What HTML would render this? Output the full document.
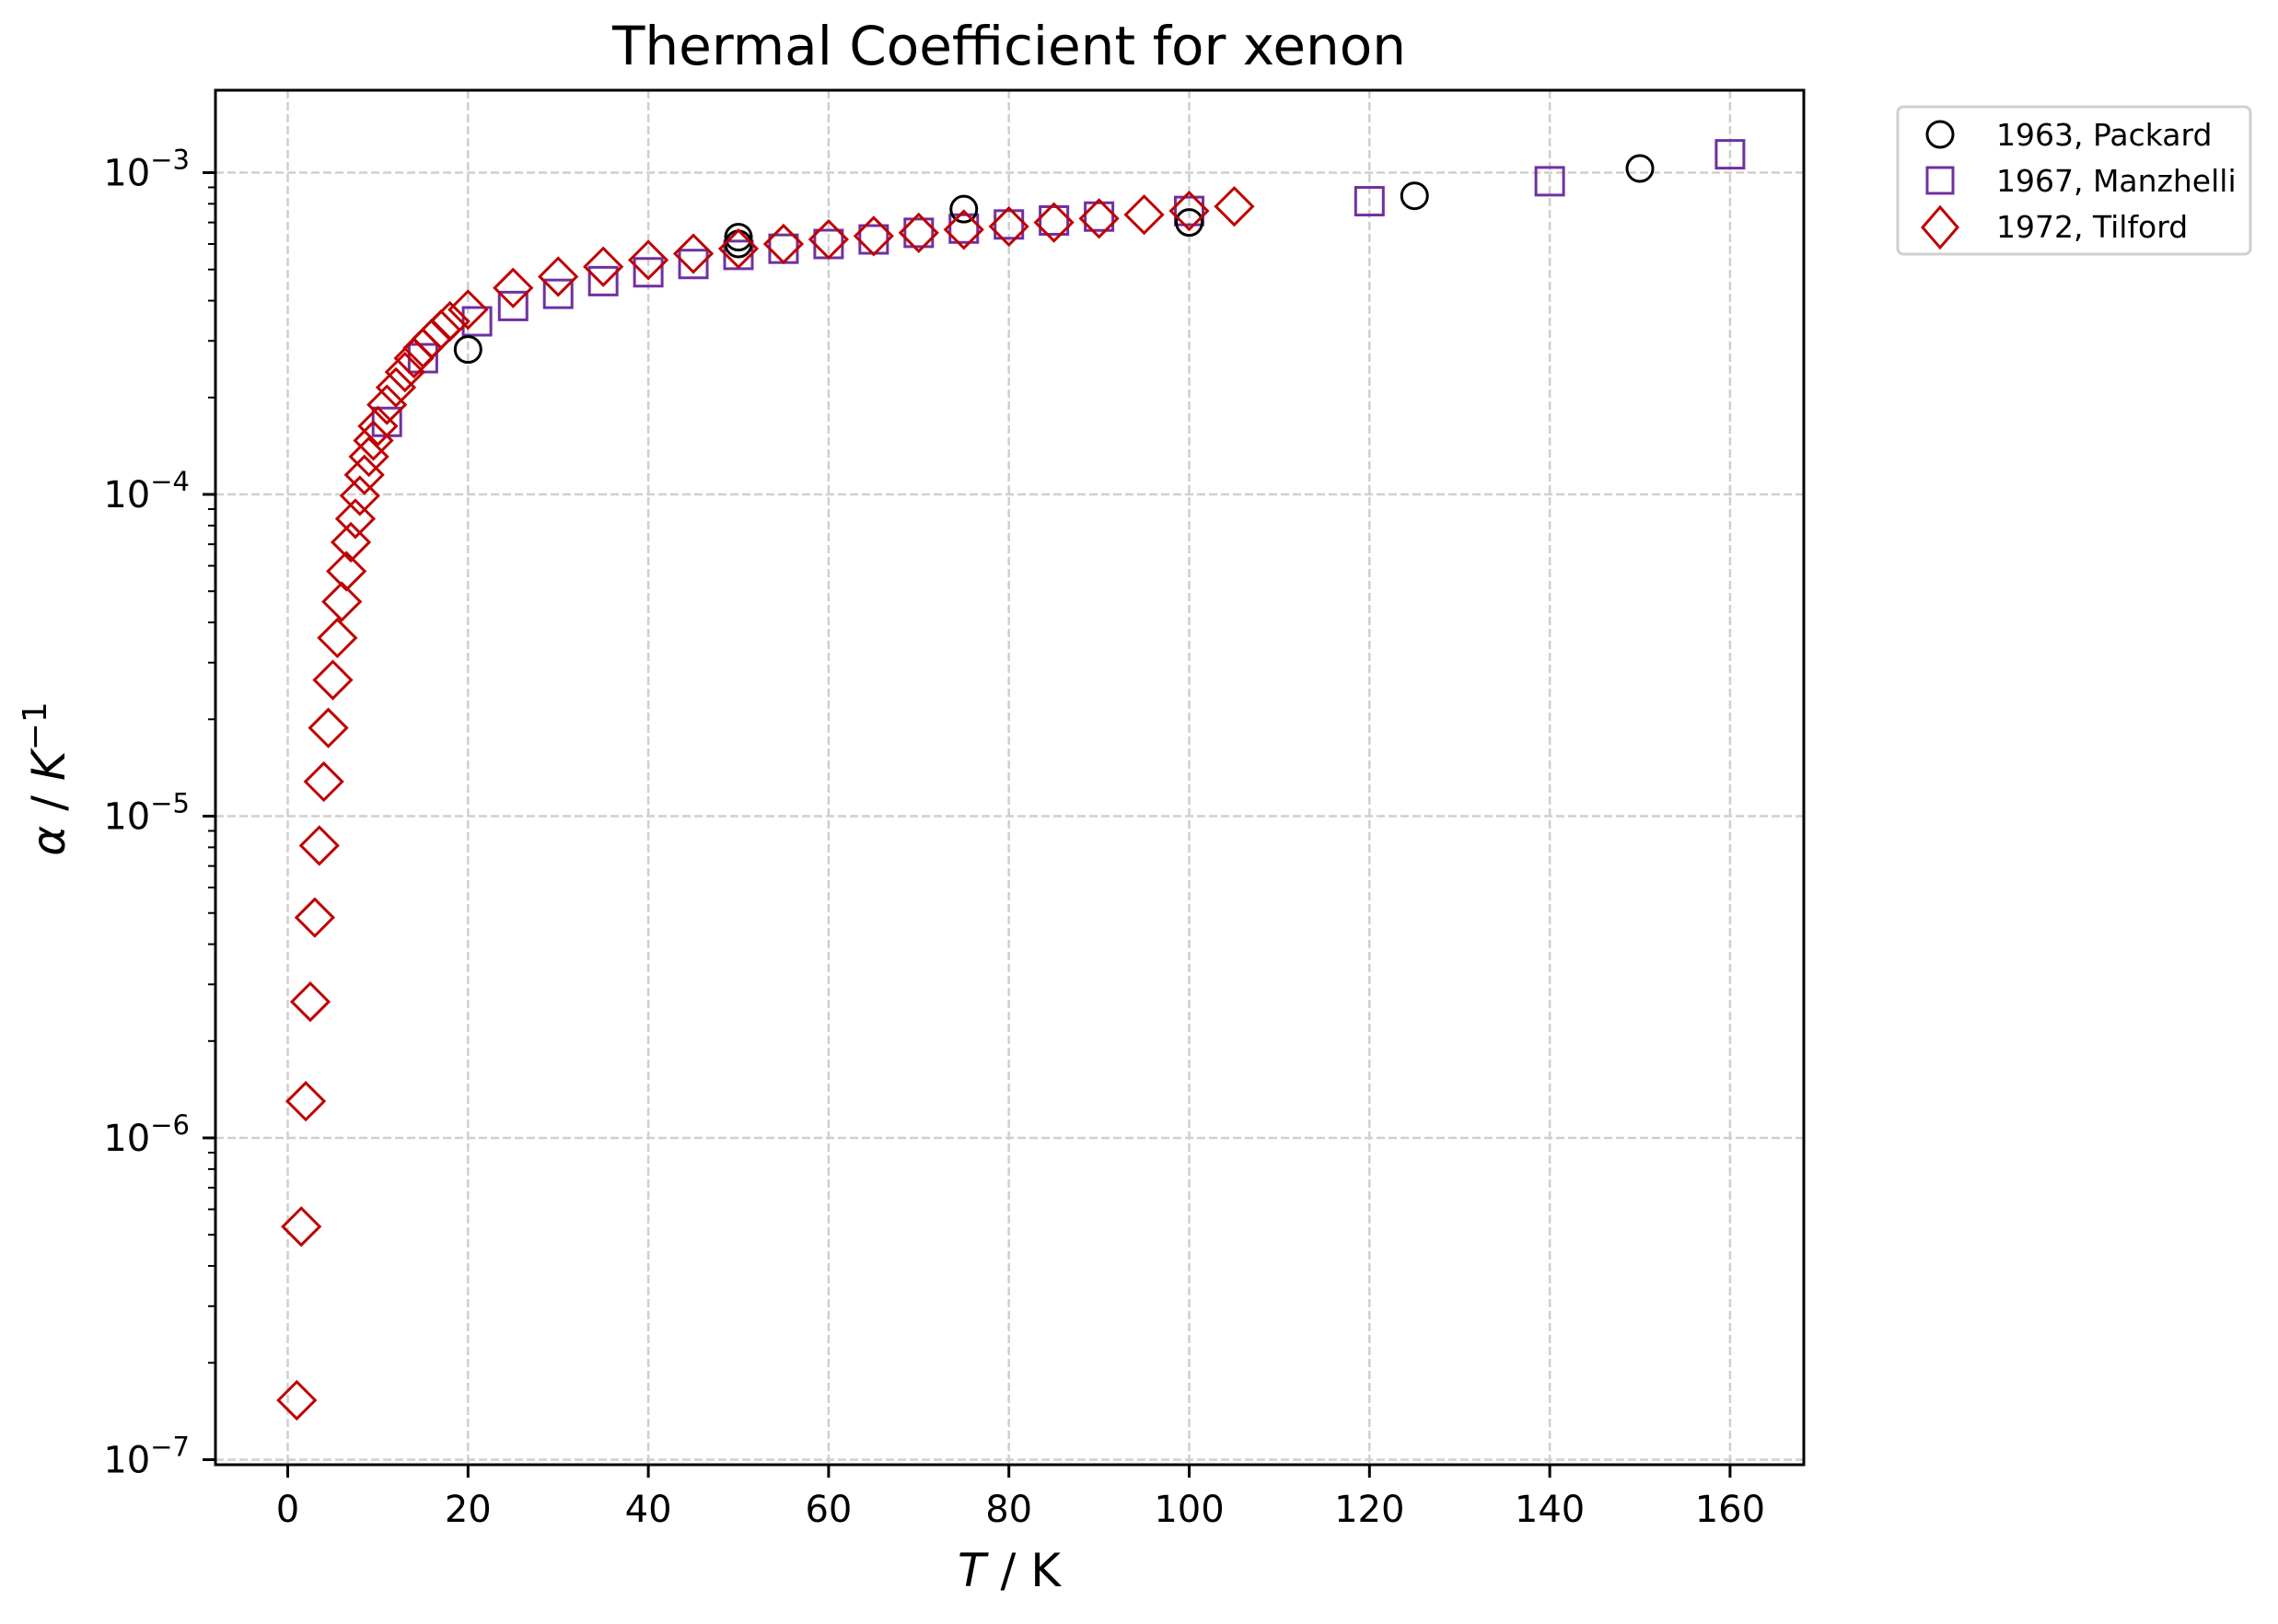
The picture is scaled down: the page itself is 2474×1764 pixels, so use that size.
<!DOCTYPE html>
<html><head><meta charset="utf-8"><style>
html,body{margin:0;padding:0;background:#fff}
svg{display:block;font-family:"DejaVu Sans","Liberation Sans",sans-serif}
</style></head><body>
<svg id="chart" width="2474" height="1764" viewBox="0 0 2474 1764" xmlns="http://www.w3.org/2000/svg">
<rect width="2474" height="1764" fill="#fff"/>
<text x="1096" y="70" font-size="58" text-anchor="middle">Thermal Coefficient for xenon</text>
<g id="grid"></g>
<g id="marks"></g>
<g id="axes"></g>
<text x="1096" y="1723" font-size="50" text-anchor="middle"><tspan font-style="italic">T</tspan> / K</text>
<text transform="translate(70,846) rotate(-90)" font-size="50" text-anchor="middle"><tspan font-style="italic">α</tspan> / <tspan font-style="italic">K</tspan><tspan dy="-20" font-size="36">−1</tspan></text>
<g>
<rect x="2061" y="116" width="383" height="160" rx="6" fill="#fff" stroke="#d0d0d0" stroke-width="3"/>
<g><circle cx="2107" cy="146" r="14" fill="none" stroke="#000" stroke-width="3"/><text x="2168" y="158" font-size="33">1963, Packard</text></g>
<g><rect x="2093" y="182" width="28" height="28" fill="none" stroke="#7030a0" stroke-width="3"/><text x="2168" y="208" font-size="33">1967, Manzhelli</text></g>
<g><path d="M2107 225 L2126 247 L2107 269 L2088 247 Z" fill="none" stroke="#c00000" stroke-width="3"/><text x="2168" y="258" font-size="33">1972, Tilford</text></g>
</g>
</svg>
<script>
const packardT=[20,50,50,75,100,125,150];
const packardA=[2.82e-4,6.3e-4,6.0e-4,7.7e-4,7.0e-4,8.47e-4,1.03e-3];
const manzT=[11,15,21,25,30,35,40,45,50,55,60,65,70,75,80,85,90,100,120,140,160];
const manzA=[1.68e-4,2.65e-4,3.45e-4,3.85e-4,4.2e-4,4.6e-4,4.9e-4,5.2e-4,5.55e-4,5.8e-4,6.0e-4,6.2e-4,6.5e-4,6.7e-4,6.9e-4,7.1e-4,7.3e-4,7.6e-4,8.15e-4,9.4e-4,1.14e-3];
const tilT=[1,1.5,2,2.5,3,3.5,4,4.5,5,5.5,6,6.5,7,7.5,8,8.5,9,9.5,10,11,12,13,14,15,16,17,18,20,25,30,35,40,45,50,55,60,65,70,75,80,85,90,95,100,105];
const tilA=[1.53e-7,5.3e-7,1.3e-6,2.65e-6,4.84e-6,8.1e-6,1.28e-5,1.88e-5,2.65e-5,3.58e-5,4.64e-5,5.77e-5,7.1e-5,8.4e-5,9.9e-5,1.15e-4,1.31e-4,1.47e-4,1.63e-4,1.9e-4,2.15e-4,2.4e-4,2.65e-4,2.85e-4,3.05e-4,3.25e-4,3.45e-4,3.75e-4,4.38e-4,4.75e-4,5.1e-4,5.35e-4,5.6e-4,5.8e-4,6.0e-4,6.2e-4,6.35e-4,6.5e-4,6.65e-4,6.8e-4,7.0e-4,7.2e-4,7.4e-4,7.6e-4,7.85e-4];
const xTicks=[0,20,40,60,80,100,120,140,160];
const yDecades=[-7,-6,-5,-4,-3];

const L=234,R=1959,T=98,B=1591;
function xs(v){return 312.5+v*9.79;}
function ys(a){return 187.5+(-3-Math.log10(a))*349.5;}
const NS='http://www.w3.org/2000/svg';
function mk(tag,attrs,parent){const e=document.createElementNS(NS,tag);for(const k in attrs)e.setAttribute(k,attrs[k]);parent.appendChild(e);return e;}
const grid=document.getElementById('grid'),marks=document.getElementById('marks'),axes=document.getElementById('axes');
const gs={stroke:'#cfcfcf','stroke-width':2.5,'stroke-dasharray':'9,4',fill:'none'};
xTicks.forEach(t=>{const x=xs(t);
 const g=mk('line',Object.assign({x1:x,x2:x,y1:T,y2:B},gs),grid);
 
 
 const tk=mk('line',{x1:x,x2:x,y1:B,y2:B+14,stroke:'#000','stroke-width':3},axes);
 
 
 const lb=mk('text',{x:x,y:B+62,'font-size':40,'text-anchor':'middle'},axes);
 lb.textContent=String(t);
 
 
});
yDecades.forEach(d=>{const y=ys(Math.pow(10,d));
 const g=mk('line',Object.assign({x1:L,x2:R,y1:y,y2:y},gs),grid);
 
 
 const tk=mk('line',{x1:L-14,x2:L,y1:y,y2:y,stroke:'#000','stroke-width':3},axes);
 
 
 const lb=mk('text',{x:L-28,y:y+14,'font-size':40,'text-anchor':'end'},axes);
 
 
 const t1=mk('tspan',{},lb);t1.textContent='10';
 const t2=mk('tspan',{dy:-18,'font-size':29},lb);t2.textContent='−'+(-d);
});
for(let d=-8;d<=-3;d++){for(let m=2;m<=9;m++){const a=m*Math.pow(10,d);const y=ys(a);
 if(y<T||y>B)continue;
 const tk=mk('line',{x1:L-8,x2:L,y1:y,y2:y,stroke:'#000','stroke-width':2},axes);
 
 
}}
mk('rect',{x:L,y:T,width:R-L,height:B-T,fill:'none',stroke:'#000','stroke-width':3},axes);
manzT.forEach((t,i)=>{const x=xs(t),y=ys(manzA[i]);
 const e=mk('rect',{x:x-15,y:y-15,width:30,height:30,fill:'none',stroke:'#7030a0','stroke-width':3},marks);
 
 
});
packardT.forEach((t,i)=>{const x=xs(t),y=ys(packardA[i]);
 const e=mk('circle',{cx:x,cy:y,r:14,fill:'none',stroke:'#000','stroke-width':3},marks);
 
 
});
tilT.forEach((t,i)=>{const x=xs(t),y=ys(tilA[i]);
 const e=mk('path',{d:`M${x} ${y-20} L${x+20} ${y} L${x} ${y+20} L${x-20} ${y} Z`,fill:'none',stroke:'#c00000','stroke-width':3},marks);
 
 
});
</script>
</body></html>
